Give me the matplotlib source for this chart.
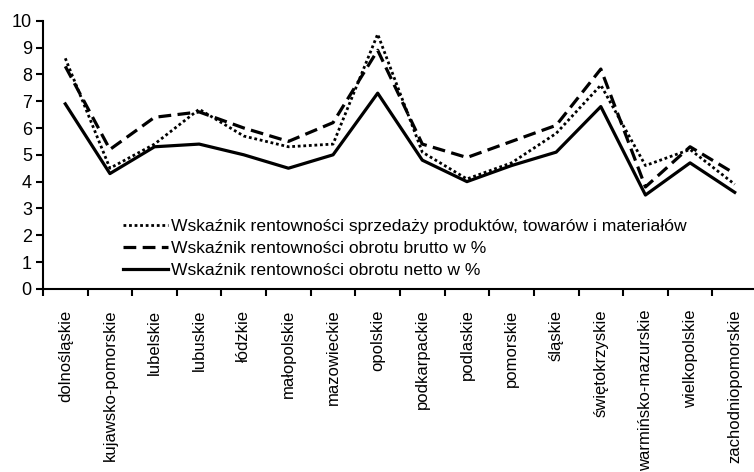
import matplotlib
matplotlib.use("Agg")
import matplotlib.pyplot as plt

plt.rcParams['font.family'] = ['Liberation Sans', 'DejaVu Sans']

regions = ["dolnośląskie", "kujawsko-pomorskie", "lubelskie", "lubuskie", "łódzkie",
           "małopolskie", "mazowieckie", "opolskie", "podkarpackie", "podlaskie",
           "pomorskie", "śląskie", "świętokrzyskie", "warmińsko-mazurskie",
           "wielkopolskie", "zachodniopomorskie"]

sprzedaz = [8.6, 4.5, 5.4, 6.7, 5.7, 5.3, 5.4, 9.5, 5.1, 4.1, 4.7, 5.8, 7.6, 4.6, 5.2, 3.9]
brutto = [8.3, 5.2, 6.4, 6.6, 6.0, 5.5, 6.2, 8.9, 5.4, 4.9, 5.5, 6.1, 8.2, 3.8, 5.3, 4.3]
netto = [6.9, 4.3, 5.3, 5.4, 5.0, 4.5, 5.0, 7.3, 4.8, 4.0, 4.6, 5.1, 6.8, 3.5, 4.7, 3.6]

labels = ["Wskaźnik rentowności sprzedaży produktów, towarów i materiałów",
          "Wskaźnik rentowności obrotu brutto w %",
          "Wskaźnik rentowności obrotu netto w %"]

fig = plt.figure(figsize=(7.54, 4.72), dpi=100)
ax = fig.add_axes([0.057, 0.388, 0.947, 0.568])

x = range(len(regions))
ax.plot(x, sprzedaz, color="black", lw=2.0, linestyle=(0, (1, 1)), label=labels[0])
ax.plot(x, brutto, color="black", lw=2.3, linestyle=(0, (4, 2)), label=labels[1])
ax.plot(x, netto, color="black", lw=2.3, linestyle="-", label=labels[2])

ax.set_xlim(-0.5, 15.5)
ax.set_ylim(0, 10)
ax.set_yticks(range(0, 11))
# tick marks between the categories, labels at the centres
ax.set_xticks([i + 0.5 for i in range(-1, 15)])
ax.set_xticklabels([])
ax.set_xticks(list(x), minor=True)
ax.set_xticklabels(regions, minor=True, rotation=90, fontsize=12)
ax.tick_params(axis="x", which="minor", length=0, pad=15)
ax.tick_params(axis="x", which="major", length=5, width=1.5, direction="out")
ax.tick_params(axis="y", length=5, width=1.5, direction="out", labelsize=13, pad=3)

for side in ["top", "right"]:
    ax.spines[side].set_visible(False)
for side in ["left", "bottom"]:
    ax.spines[side].set_linewidth(1.5)

ax.legend(loc="upper left", bbox_to_anchor=(0.163, 0.537), bbox_transform=fig.transFigure,
          frameon=False, fontsize=12.6, handlelength=2.6, handletextpad=0.15,
          labelspacing=0.4, borderpad=0, borderaxespad=0)

fig.savefig("out.png", dpi=100)
